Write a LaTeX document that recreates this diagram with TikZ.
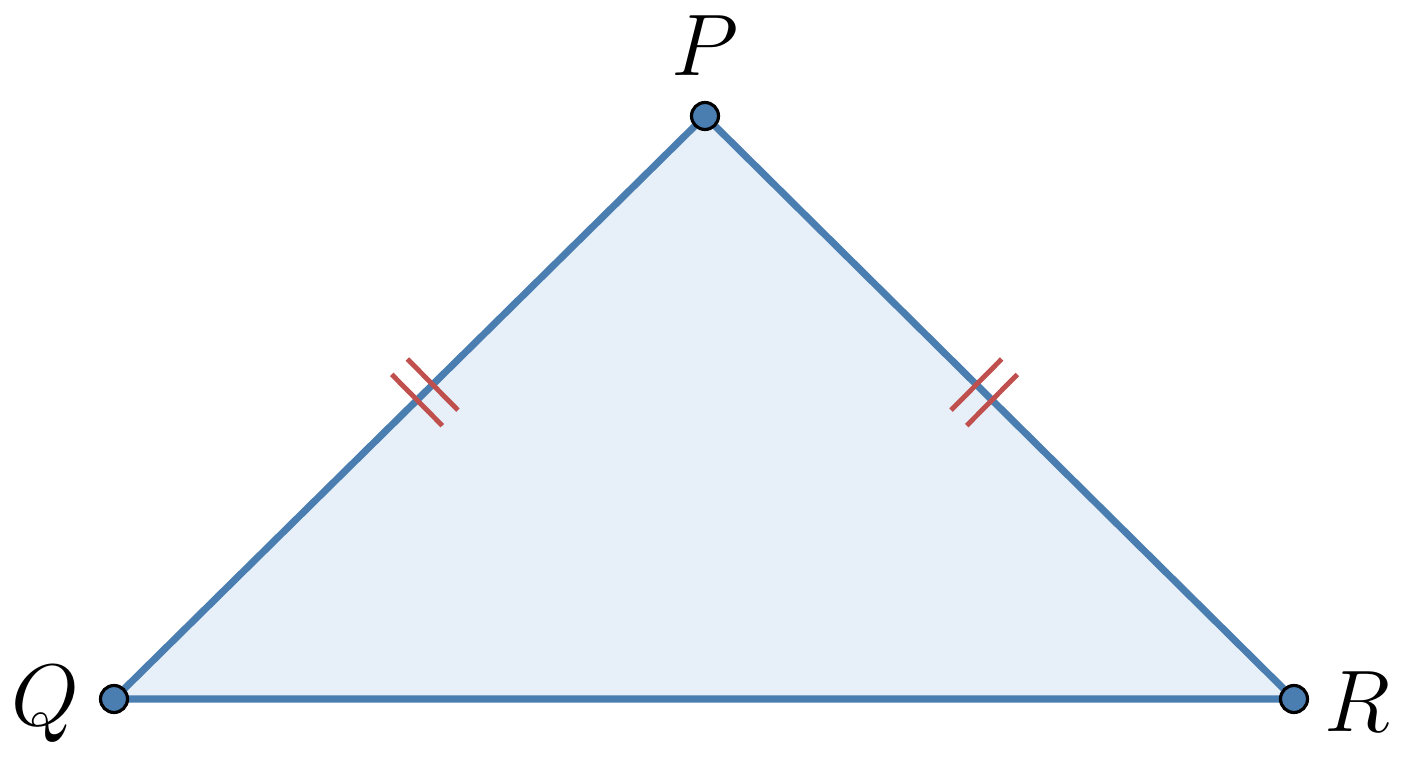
\documentclass[tikz,border=0pt]{standalone}
\usetikzlibrary{calc,backgrounds}

\definecolor{edgeblue}{HTML}{4A7DB0}
\definecolor{fillblue}{HTML}{E7F0F9}
\definecolor{tickred}{HTML}{C0504D}

\tikzset{
  dot/.style={circle,draw=black,fill=edgeblue,line width=0.9pt,inner sep=0pt,minimum size=0.27cm},
  side/.style={draw=edgeblue,line width=2pt,line join=round},
  tick/.style={draw=tickred,line width=1.4pt},
  lbl/.style={font=\fontsize{30}{32}\selectfont,inner sep=0pt}
}

\begin{document}
\begin{tikzpicture}
		\useasboundingbox (0,0) rectangle (14.08,7.68);
		\node[dot] (P) at (7.05,6.52) {};
		\node[dot] (Q) at (1.14,0.69) {};
		\node[dot] (R) at (12.94,0.69) {};
		
		\begin{scope}[on background layer]
		\fill[fillblue] (P.center) -- (Q.center) -- (R.center) -- cycle;
		\draw[side] (P.center) -- (Q.center) -- (R.center) -- cycle;
		\end{scope}
		
		% tick marks
		\coordinate (m1) at ($(P)!0.474!(Q)$);
		\coordinate (m2) at ($(P)!0.474!(R)$);
		\foreach \m/\e in {m1/Q,m2/R}{
			\coordinate (ta) at ($(\m)!0.11cm!(\e)$);
			\coordinate (tb) at ($(\m)!-0.11cm!(\e)$);
			\draw[tick] ($(ta)!0.36cm!90:(\e)$) -- ($(ta)!0.36cm!-90:(\e)$);
			\draw[tick] ($(tb)!0.36cm!90:(\e)$) -- ($(tb)!0.36cm!-90:(\e)$);
		}
		
		\node[lbl] (lP) at (7.05,7.22) {$P$};
		\node[lbl] (lQ) at (0.45,0.64) {$Q$};
		\node[lbl] (lR) at (13.57,0.66) {$R$};
	\end{tikzpicture}
\end{document}
